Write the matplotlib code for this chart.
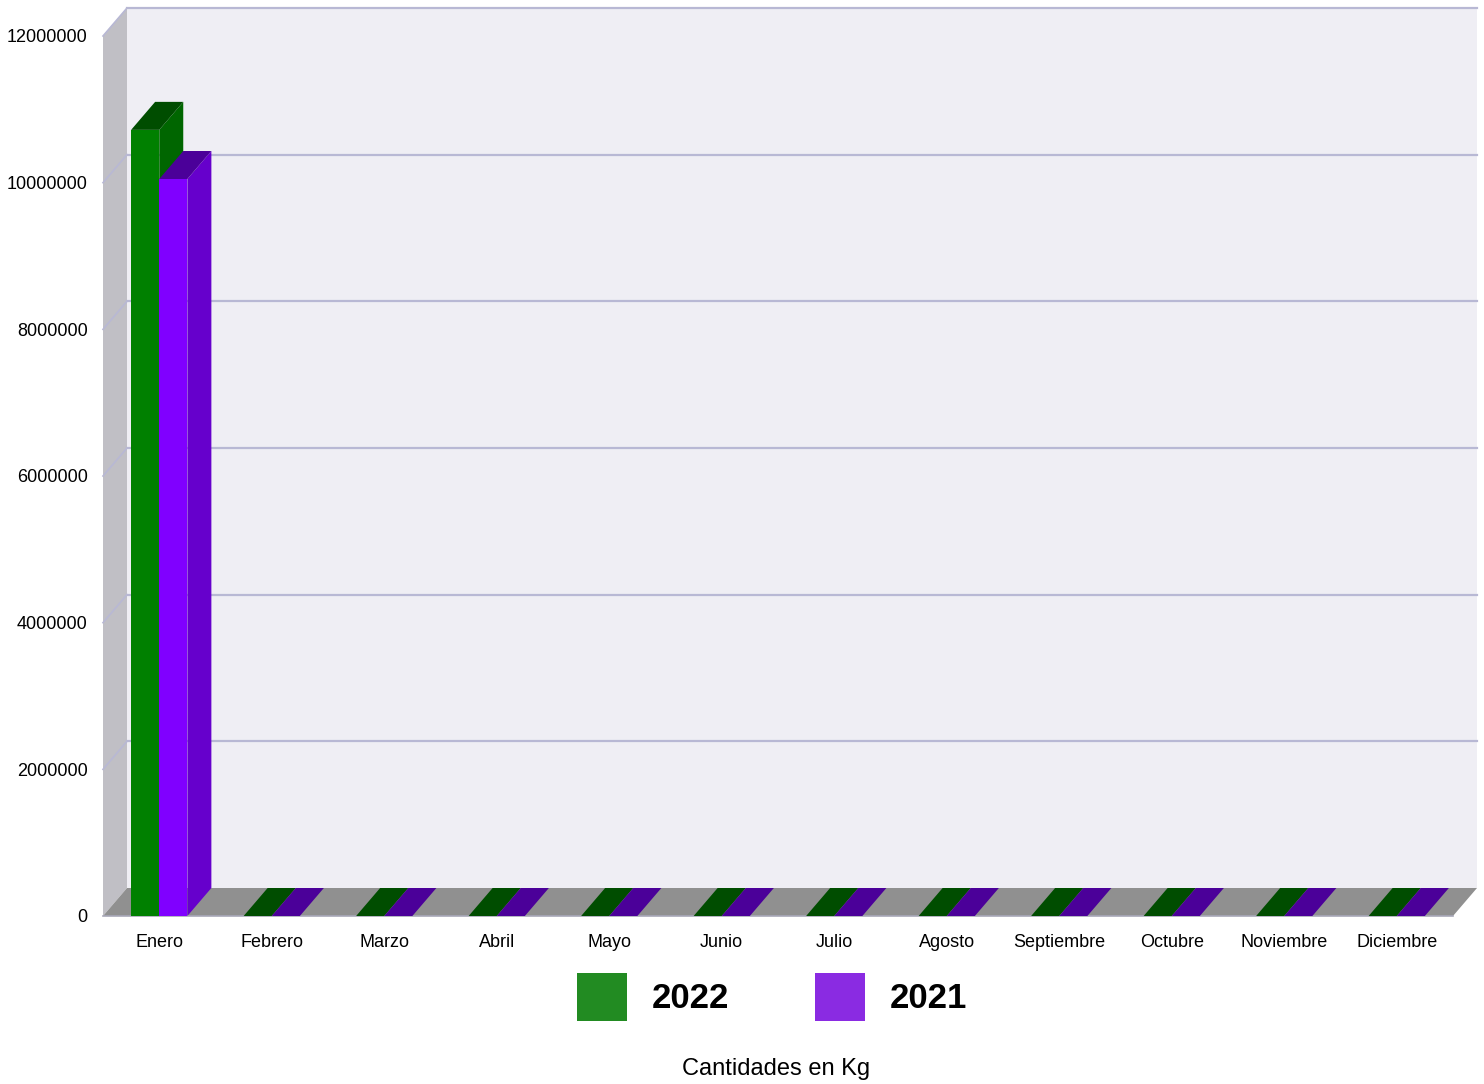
import matplotlib
matplotlib.use('Agg')
import matplotlib.pyplot as plt
from matplotlib.patches import Polygon, Patch

plt.rcParams['font.family'] = ['Liberation Sans', 'DejaVu Sans']

# data
months = ['Enero', 'Febrero', 'Marzo', 'Abril', 'Mayo', 'Junio', 'Julio',
          'Agosto', 'Septiembre', 'Octubre', 'Noviembre', 'Diciembre']
values_2022 = [10720000, 0, 0, 0, 0, 0, 0, 0, 0, 0, 0, 0]
values_2021 = [10050000, 0, 0, 0, 0, 0, 0, 0, 0, 0, 0, 0]
series_names = ['2022', '2021']
y_ticks = [0, 2000000, 4000000, 6000000, 8000000, 10000000, 12000000]
y_max = 12000000

# colours: front, side, top, legend
colors = [
    {'front': '#008000', 'side': '#006600', 'top': '#004d00', 'legend': '#228b22'},
    {'front': '#8000ff', 'side': '#6600cc', 'top': '#4b0099', 'legend': '#8a2be2'},
]

W, H = 1484, 1084
fig = plt.figure(figsize=(W / 100, H / 100), dpi=100)
# axes covers the front plane of the 3d box
ax = fig.add_axes([103 / W, 168 / H, 1350 / W, 880 / H])
n = len(months)
ax.set_xlim(0, n)
ax.set_ylim(0, y_max)
for s in ax.spines.values():
    s.set_visible(False)
ax.patch.set_alpha(0)

# depth offset in data units (24px right, 28px up)
DX = 24 / (1350 / n)
DY = 28 / 880 * y_max

def poly(pts, color, z, **kw):
    ax.add_patch(Polygon(pts, closed=True, facecolor=color, edgecolor='none',
                         zorder=z, clip_on=False, **kw))

# back wall, left wall, floor
poly([(DX, DY), (n + DX, DY), (n + DX, y_max + DY), (DX, y_max + DY)], '#efeef4', 0)
poly([(0, 0), (DX, DY), (DX, y_max + DY), (0, y_max)], '#c0bfc5', 0)
poly([(0, 0), (n, 0), (n + DX, DY), (DX, DY)], '#909090', 1)

# grid lines on the walls
grid_c = '#b8b8d4'
for v in y_ticks[1:]:
    ax.plot([DX, n + DX], [v + DY, v + DY], color=grid_c, lw=1.6, zorder=0.5, clip_on=False)
    ax.plot([0, DX], [v, v + DY], color=grid_c, lw=1.2, zorder=0.5, clip_on=False)
ax.plot([0, n], [0, 0], color='#a8a8b8', lw=1.2, zorder=1.2, clip_on=False)

# 3d bars
bw = 0.25
for i in range(n):
    for j, vals in enumerate([values_2022, values_2021]):
        h = vals[i]
        c = colors[j]
        x0 = i + 0.25 + j * bw
        x1 = x0 + bw
        z = 2 + j
        if h > 0:
            poly([(x0, 0), (x1, 0), (x1, h), (x0, h)], c['front'], z)
            poly([(x1, 0), (x1 + DX, DY), (x1 + DX, h + DY), (x1, h)], c['side'], z)
        poly([(x0, h), (x1, h), (x1 + DX, h + DY), (x0 + DX, h + DY)], c['top'], z)

ax.set_yticks(y_ticks)
ax.set_yticklabels([str(v) for v in y_ticks])
ax.set_xticks([i + 0.5 for i in range(n)])
ax.set_xticklabels(months)
ax.tick_params(axis='y', length=0, pad=11, labelsize=13, colors='#000000')
ax.tick_params(axis='x', length=0, pad=13, labelsize=13, colors='#000000')

handles = [Patch(facecolor=c['legend'], edgecolor='none') for c in colors]
leg = fig.legend(handles, series_names, loc='center', ncol=2,
                 bbox_to_anchor=(772 / W, 1 - 997 / H), frameon=False,
                 borderpad=0, handlelength=1.43, handleheight=1.75,
                 handletextpad=0.72, columnspacing=2.47,
                 prop={'size': 25, 'weight': 'bold'})

fig.text(776 / W, 1 - 1069 / H, 'Cantidades en Kg', ha='center', va='center', fontsize=17)

fig.savefig('out.png', dpi=100)
